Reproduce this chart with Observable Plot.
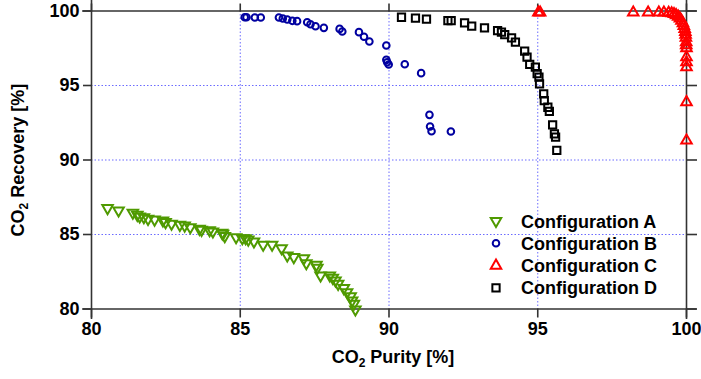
<!DOCTYPE html>
<html><head><meta charset="utf-8">
<script src="https://cdn.jsdelivr.net/npm/d3@7"></script>
<script src="https://cdn.jsdelivr.net/npm/@observablehq/plot@0.6"></script>
<style>
body{margin:0;background:#fff;}
#chart svg{font-family:"Liberation Sans",Arial,sans-serif;}
</style></head>
<body><div id="chart"></div>
<script>
// Configuration A (green, down triangles): [purity, recovery]
const configA = [
  [80.54,86.77],[80.91,86.61],[81.39,86.46],[81.54,86.32],[81.62,86.21],[81.76,86.16],[81.90,86.05],
  [82.12,86.00],[82.40,85.94],[82.49,85.83],[82.69,85.72],[82.97,85.65],[83.13,85.60],[83.32,85.49],
  [83.63,85.38],[83.70,85.31],[83.97,85.29],[84.08,85.20],[84.39,85.11],[84.48,84.89],[84.42,85.05],
  [84.86,84.82],[85.07,84.75],[85.18,84.75],[85.27,84.66],[85.46,84.53],[85.77,84.31],[86.07,84.31],
  [86.39,84.08],[86.58,83.59],[86.80,83.48],[87.14,83.41],[87.22,83.07],[87.56,82.96],[87.59,82.76],
  [87.70,82.25],[88.01,82.25],[88.11,82.09],[88.20,81.91],[88.29,81.69],[88.48,81.40],[88.59,81.13],
  [88.71,80.86],[88.76,80.57],[88.82,80.35],[88.87,79.97]
];
// Configuration B (blue circles)
const configB = [
  [85.15,99.58],[85.21,99.58],[85.49,99.56],[85.69,99.56],[86.30,99.56],[86.43,99.50],[86.58,99.43],
  [86.75,99.34],[86.91,99.32],[87.25,99.25],[87.36,99.11],[87.53,98.98],[87.81,98.87],[88.34,98.80],
  [88.43,98.62],[88.99,98.58],[89.16,98.27],[89.34,97.95],[89.91,97.68],[89.91,96.72],[89.94,96.56],
  [89.99,96.41],[90.53,96.43],[91.08,95.83],[91.36,93.03],[91.38,92.25],[91.43,91.93],[92.08,91.91]
];
// Configuration C (red, up triangles)
const configC = [
  [95.02,99.90],[95.08,99.90],[98.21,99.90],[98.71,99.90],[99.07,99.90],[99.24,99.90],[99.40,99.88],
  [99.50,99.85],[99.58,99.80],[99.65,99.72],[99.72,99.62],[99.78,99.50],[99.83,99.35],[99.88,99.18],
  [99.91,99.00],[99.94,98.80],[99.96,98.60],[99.97,98.40],[99.98,98.20],[99.99,97.90],[99.99,97.70],
  [100.0,97.50],[100.0,96.90],[100.0,96.56],[100.0,96.23],[100.0,93.88],[100.0,91.31]
];
// Configuration D (black squares)
const configD = [
  [90.42,99.58],[90.89,99.52],[91.26,99.45],[91.98,99.36],[92.09,99.36],[92.54,99.21],[92.78,98.98],
  [93.21,98.87],[93.65,98.69],[93.78,98.58],[93.89,98.42],[94.12,98.20],[94.25,97.91],[94.56,97.30],
  [94.64,96.90],[94.73,96.41],[94.92,96.23],[94.98,95.79],[95.04,95.56],[95.06,95.11],[95.20,94.44],
  [95.22,93.99],[95.34,93.54],[95.39,93.26],[95.50,92.36],[95.56,91.76],[95.60,91.53],[95.64,90.64]
];
const seriesNames = ["Configuration A","Configuration B","Configuration C","Configuration D"];
const ticks = [80,85,90,95,100];
const gridVals = [85,90,95];

const colA="#4f9a00", colB="#0000a0", colC="#ff0000", colD="#000000";
const rTri = 3.9, rCirc = 3.3, rSq = 4.1;

const axisStyle = {stroke:"#333", strokeWidth:1.6};
const svg = Plot.plot({
  width:701, height:379,
  marginLeft:91, marginRight:15, marginTop:10.5, marginBottom:70.5,
  x:{domain:[80,100]}, y:{domain:[80,100]},
  style:{fontFamily:"Liberation Sans, Arial, sans-serif", fontSize:"18px", fontWeight:"bold", color:"#000", overflow:"visible"},
  marks:[
    Plot.ruleX(gridVals,{stroke:"#6b6bff", strokeDasharray:"1.5,2", strokeWidth:1}),
    Plot.ruleY(gridVals,{stroke:"#6b6bff", strokeDasharray:"1.5,2", strokeWidth:1}),
    Plot.axisX({ticks, tickSize:9, tickPadding:4, tickFormat:d=>d, label:null, stroke:"#333", strokeWidth:1.6, fontSize:18, fontWeight:"bold"}),
    Plot.axisY({ticks, tickSize:8, tickPadding:4, tickFormat:d=>d, label:null, stroke:"#333", strokeWidth:1.6, fontSize:18, fontWeight:"bold"}),
    Plot.axisX({anchor:"top", ticks, tickSize:8, tickFormat:()=>"", label:null, stroke:"#333", strokeWidth:1.6}),
    Plot.axisY({anchor:"right", ticks, tickSize:10, tickFormat:()=>"", label:null, stroke:"#333", strokeWidth:1.6}),
    Plot.ruleX([80],{y1:79.3, y2:100.7, clip:false, ...axisStyle}),
    Plot.ruleX([100],{y1:79.3, y2:100.7, clip:false, ...axisStyle}),
    Plot.ruleY([80],{x1:79.7, x2:100.35, clip:false, ...axisStyle}),
    Plot.ruleY([100],{x1:79.7, x2:100.35, clip:false, ...axisStyle}),
    Plot.dot(configA,{x:d=>d[0], y:d=>d[1], symbol:"triangle", rotate:180, r:rTri, stroke:colA, strokeWidth:2, fill:"none"}),
    Plot.dot(configB,{x:d=>d[0], y:d=>d[1], symbol:"circle", r:rCirc, stroke:colB, strokeWidth:2, fill:"none"}),
    Plot.dot(configD,{x:d=>d[0], y:d=>d[1], symbol:"square", r:rSq, stroke:colD, strokeWidth:2, fill:"none"}),
    Plot.dot(configC,{x:d=>d[0], y:d=>d[1], symbol:"triangle", r:rTri, stroke:colC, strokeWidth:2, fill:"none"})
  ]
});

const s = d3.select(svg);
// axis titles
const xt = s.append("text").attr("x",393).attr("y",363).attr("text-anchor","middle")
  .attr("font-size",18).attr("font-weight","bold").attr("fill","#000");
xt.append("tspan").text("CO");
xt.append("tspan").attr("font-size",12).attr("dy",4).text("2");
xt.append("tspan").attr("dy",-4).text(" Purity [%]");
const yt = s.append("text").attr("transform","translate(24,160) rotate(-90)").attr("text-anchor","middle")
  .attr("font-size",18).attr("font-weight","bold").attr("fill","#000");
yt.append("tspan").text("CO");
yt.append("tspan").attr("font-size",12).attr("dy",4).text("2");
yt.append("tspan").attr("dy",-4).text(" Recovery [%]");

// legend
const legItems = [
  {name:seriesNames[0], sym:d3.symbolTriangle, rot:180, col:colA, r:rTri},
  {name:seriesNames[1], sym:d3.symbolCircle, rot:0, col:colB, r:rCirc},
  {name:seriesNames[2], sym:d3.symbolTriangle, rot:0, col:colC, r:rTri},
  {name:seriesNames[3], sym:d3.symbolSquare, rot:0, col:colD, r:rSq}
];
const lg = s.append("g");
legItems.forEach((it,i)=>{
  const y = 221 + i*22.3;
  lg.append("path").attr("d", d3.symbol(it.sym, Math.PI*it.r*it.r)())
    .attr("transform",`translate(496,${y}) rotate(${it.rot})`)
    .attr("fill","none").attr("stroke",it.col).attr("stroke-width",2);
  lg.append("text").attr("x",521).attr("y",y+6.5).attr("text-anchor","start").attr("font-size",18).attr("font-weight","bold")
    .attr("fill","#000").text(it.name);
});
document.getElementById("chart").appendChild(svg);
</script></body></html>
